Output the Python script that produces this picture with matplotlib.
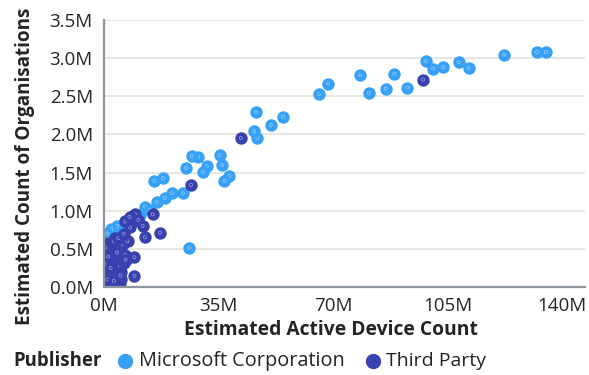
import matplotlib
matplotlib.use("Agg")
import matplotlib.pyplot as plt
from matplotlib.lines import Line2D
from matplotlib.ticker import FuncFormatter

plt.rcParams['font.family'] = ['Open Sans', 'DejaVu Sans']

# ---- data (millions) ----
ms_x = [135.0, 132.3, 122.3, 111.5, 108.4, 103.6, 100.6, 98.3, 92.7, 88.7, 86.1, 80.9, 78.3,
        68.5, 65.7, 54.7, 51.0, 46.5, 46.9, 45.9, 35.3, 36.0, 38.3, 36.8, 31.4, 30.2, 28.8,
        26.8, 25.1, 24.1, 26.0, 15.4, 18.0, 20.7, 18.6, 16.1, 12.5, 14.1, 6.4, 11.0, 7.9,
        4.0, 2.2, 1.0]
ms_y = [3.080, 3.080, 3.046, 2.871, 2.949, 2.884, 2.863, 2.962, 2.614, 2.797, 2.601, 2.539, 2.775,
        2.666, 2.526, 2.234, 2.124, 2.291, 1.954, 2.042, 1.728, 1.597, 1.457, 1.391, 1.584, 1.509, 1.706,
        1.719, 1.562, 1.227, 0.514, 1.394, 1.427, 1.230, 1.169, 1.117, 1.054, 1.008, 0.842, 0.940, 0.810,
        0.800, 0.760, 0.700]

tp_x = [97.5, 41.8, 26.6, 9.5, 14.9, 17.1, 12.5, 9.3, 9.3, 3.4, 1.8,
        0.3, 0.8, 1.5, 2.5, 3.5, 5.0, 0.5, 1.2, 2.0, 3.0, 4.2, 5.2, 0.7, 1.8, 2.8,
        4.0, 5.2, 6.5, 1.0, 2.2, 3.3, 4.5, 5.8, 7.2, 1.5, 3.0, 4.4, 6.0, 8.5, 10.5,
        5.3, 8.0, 11.8,
        0.2, 0.2, 0.2, 1.0, 2.0, 3.8, 4.8, 6.0, 2.6, 6.5, 7.8, 4.0,
        4.6, 5.0, 6.6, 0.4, 1.3, 3.0]
tp_y = [2.719, 1.954, 1.339, 0.952, 0.952, 0.711, 0.651, 0.389, 0.148, 0.637, 0.484,
        0.02, 0.05, 0.03, 0.04, 0.06, 0.05, 0.15, 0.22, 0.12, 0.18, 0.15, 0.20, 0.30, 0.35, 0.28,
        0.33, 0.38, 0.42, 0.45, 0.50, 0.45, 0.52, 0.56, 0.60, 0.58, 0.60, 0.64, 0.70, 0.85, 0.88,
        0.10, 0.78, 0.80,
        0.30, 0.45, 0.56, 0.10, 0.25, 0.02, 0.28, 0.32, 0.38, 0.86, 0.92, 0.45,
        0.08, 0.15, 0.36, 0.52, 0.40, 0.08]

series_labels = ['Microsoft Corporation', 'Third Party']
x_ticks = [0, 35, 70, 105, 140]
y_ticks = [0.0, 0.5, 1.0, 1.5, 2.0, 2.5, 3.0, 3.5]

c_ms = '#37A0F7'
c_tp = '#3841AE'
txt = '#252423'

W, H = 589, 375
fig = plt.figure(figsize=(W / 100, H / 100), dpi=100)
ax = fig.add_axes([104 / W, (H - 287) / H, (585 - 104) / W, (287 - 20) / H])

S = 80
z = 3.0
# draw each point with its inner ring so later points cover earlier rings
for xs, ys, col, ring in [(ms_x, ms_y, c_ms, '#9fd0fb'), (tp_x, tp_y, c_tp, '#9aa0dc')]:
    for xv, yv in zip(xs, ys):
        ax.scatter([xv], [yv], s=S, c=col, linewidths=0, zorder=z)
        ax.scatter([xv], [yv], s=5, facecolors='none', edgecolors=ring, linewidths=0.5, zorder=z + 0.0005)
        z += 0.001

ax.set_xlim(0, 147)
ax.set_ylim(0, 3.5)
ax.set_xticks(x_ticks)
ax.set_yticks(y_ticks)
ax.xaxis.set_major_formatter(FuncFormatter(lambda v, p: f"{v:.0f}M"))
ax.yaxis.set_major_formatter(FuncFormatter(lambda v, p: f"{v:.1f}M"))
ax.tick_params(length=0, labelsize=13.5, colors=txt)
ax.tick_params(axis='x', pad=7)
ax.tick_params(axis='y', pad=8)
for t in ax.yaxis.get_major_ticks():
    t.label1.set_va('center_baseline')
ax.grid(axis='y', color='#E4E1DD', linewidth=1.2, zorder=0)
ax.set_axisbelow(True)
for s in ['top', 'right']:
    ax.spines[s].set_visible(False)
for s in ['left', 'bottom']:
    ax.spines[s].set_color('#8E959C')
    ax.spines[s].set_linewidth(1.6)
    ax.spines[s].set_zorder(5)

fig.text(331 / W, 1 - 330 / H, 'Estimated Active Device Count', ha='center', va='center',
         fontsize=13.9, fontweight='bold', color=txt)
fig.text(25 / W, 1 - 166 / H, 'Estimated Count of Organisations', ha='center', va='center',
         rotation=90, fontsize=13.6, fontweight='bold', color=txt)

# legend
ly = 1 - 361 / H
fig.text(13 / W, ly, 'Publisher', ha='left', va='center', fontsize=13.4, fontweight='bold', color=txt)
fig.add_artist(Line2D([125 / W], [ly], marker='o', markersize=10, color=c_ms, linestyle='none',
                      transform=fig.transFigure))
fig.text(139 / W, ly, series_labels[0], ha='left', va='center', fontsize=14.3, color=txt)
fig.add_artist(Line2D([373 / W], [ly], marker='o', markersize=10, color=c_tp, linestyle='none',
                      transform=fig.transFigure))
fig.text(386 / W, ly, series_labels[1], ha='left', va='center', fontsize=14.0, color=txt)

fig.savefig('out.png', dpi=100)
